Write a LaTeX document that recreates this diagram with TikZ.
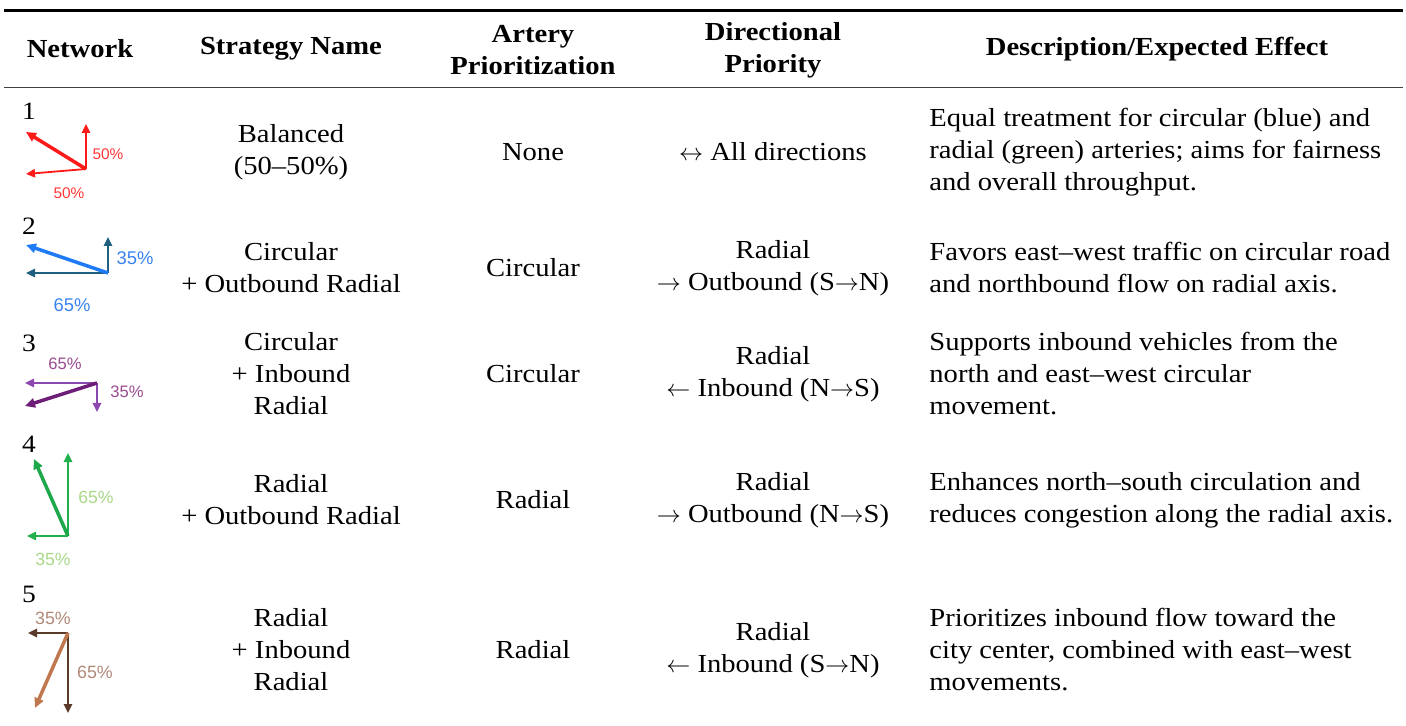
\documentclass[tikz,border=0pt]{standalone}
\usepackage{fontspec}
\setmainfont{Liberation Serif}[FakeStretch=1.1]
\newfontfamily\pctfont{Liberation Sans}
\usetikzlibrary{arrows.meta}

\definecolor{redA}{HTML}{FF1A1A}
\definecolor{redL}{HTML}{FF3535}
\definecolor{tealA}{HTML}{1F5F80}
\definecolor{blueA}{HTML}{1E7BF5}
\definecolor{blueL}{HTML}{3A82F0}
\definecolor{purA}{HTML}{8A48B0}
\definecolor{purB}{HTML}{6E1E78}
\definecolor{purL}{HTML}{9A4A90}
\definecolor{grnA}{HTML}{22B04C}
\definecolor{grnB}{HTML}{1DA84A}
\definecolor{grnL}{HTML}{A8D888}
\definecolor{brnA}{HTML}{5A3A28}
\definecolor{brnB}{HTML}{C07850}
\definecolor{brnL}{HTML}{B08878}

\begin{document}
\begin{tikzpicture}[x=0.5pt,y=-0.5pt,
  txt/.style={font=\fontsize{13}{16}\selectfont, align=center, inner sep=0pt},
  head/.style={font=\fontsize{13}{16}\selectfont\bfseries, align=center, inner sep=0pt},
  desc/.style={font=\fontsize{13}{16}\selectfont, align=left, anchor=west, inner sep=0pt},
  num/.style={font=\fontsize{12.5}{16}\selectfont, inner sep=0pt},
  pct/.style={font=\pctfont\fontsize{#1}{#1}\selectfont, inner sep=0pt},
  thinarr/.style={line width=0.9pt, -{Triangle[length=4.5pt,width=4.2pt]}},
  thickarr/.style={line width=1.75pt, -{Triangle[length=5pt,width=4.6pt]}}
]
\useasboundingbox (0,0) rectangle (1406,726);

% rules
\draw[line width=1.5pt] (4,11) -- (1403,11);
\draw[line width=0.9pt, black!75] (4,87.5) -- (1403,87.5);

% header
\node[head] (h1) at (80,49) {Network};
\node[head] (h2) at (291,49) {Strategy Name};
\node[head] (h3) at (533,50) {Artery\\Prioritization};
\node[head] (h4) at (773,50) {Directional\\Priority};
\node[head] (h5) at (1157,49) {Description/Expected Effect};

% network numbers
\node[num] (n1) at (29,111) {1};
\node[num] (n2) at (29,226) {2};
\node[num] (n3) at (29,343) {3};
\node[num] (n4) at (29,444) {4};
\node[num] (n5) at (29,594) {5};

% icon 1
\coordinate (o1) at (86,169);
\coordinate (u1) at (86,124);
\coordinate (d1) at (26,132);
\coordinate (l1) at (26,174);
\draw[thinarr, redA] (o1) -- (u1);
\draw[thinarr, redA] (o1) -- (l1);
\draw[thickarr, redA] (o1) -- (d1);
\node[pct=7.7, redL] (p1a) at (108,154) {50\%};
\node[pct=7.7, redL] (p1b) at (69,193) {50\%};

% icon 2
\coordinate (o2) at (108,273);
\coordinate (u2) at (108,237);
\coordinate (d2) at (26,245);
\coordinate (l2) at (26,273);
\draw[thinarr, tealA] (o2) -- (u2);
\draw[thinarr, tealA] (o2) -- (l2);
\draw[thickarr, blueA] (o2) -- (d2);
\node[pct=9.2, blueL] (p2a) at (135,258) {35\%};
\node[pct=9.2, blueL] (p2b) at (72,305) {65\%};

% icon 3
\coordinate (o3) at (97,383);
\coordinate (l3) at (25,383);
\coordinate (d3) at (25,406);
\coordinate (s3) at (97,412);
\draw[thinarr, purA] (o3) -- (l3);
\draw[thinarr, purA] (o3) -- (s3);
\draw[thickarr, purB] (o3) -- (d3);
\node[pct=8.3, purL] (p3a) at (65,364) {65\%};
\node[pct=8.3, purL] (p3b) at (127,392) {35\%};

% icon 4
\coordinate (o4) at (68,536);
\coordinate (u4) at (68,453);
\coordinate (d4) at (34,459);
\coordinate (l4) at (27,536);
\draw[thinarr, grnA] (o4) -- (u4);
\draw[thinarr, grnA] (o4) -- (l4);
\draw[thickarr, grnB] (o4) -- (d4);
\node[pct=8.8, grnL] (p4a) at (96,497) {65\%};
\node[pct=8.8, grnL] (p4b) at (53,559) {35\%};

% icon 5
\coordinate (o5) at (68,633);
\coordinate (l5) at (28,633);
\coordinate (s5) at (68,713);
\coordinate (d5) at (35,708);
\draw[thinarr, brnA] (o5) -- (l5);
\draw[thinarr, brnA] (o5) -- (s5);
\draw[thickarr, brnB] (o5) -- (d5);
\node[pct=8.9, brnL] (p5a) at (53,618) {35\%};
\node[pct=8.9, brnL] (p5b) at (95,672) {65\%};

% strategy names
\node[txt] (s1) at (291,152) {Balanced\\(50--50\%)};
\node[txt] (s2) at (291,268) {Circular\\+ Outbound Radial};
\node[txt] (s3) at (291,374) {Circular\\+ Inbound\\Radial};
\node[txt] (s4) at (291,500) {Radial\\+ Outbound Radial};
\node[txt] (s5) at (291,650) {Radial\\+ Inbound\\Radial};

% artery prioritization
\node[txt] (a1) at (533,152) {None};
\node[txt] (a2) at (533,268) {Circular};
\node[txt] (a3) at (533,374) {Circular};
\node[txt] (a4) at (533,500) {Radial};
\node[txt] (a5) at (533,650) {Radial};

% directional priority
\node[txt] (r1) at (773,152) {$\leftrightarrow$ All directions};
\node[txt] (r2) at (773,268) {Radial\\$\rightarrow$ Outbound (S$\rightarrow$N)};
\node[txt] (r3) at (773,374) {Radial\\$\leftarrow$ Inbound (N$\rightarrow$S)};
\node[txt] (r4) at (773,500) {Radial\\$\rightarrow$ Outbound (N$\rightarrow$S)};
\node[txt] (r5) at (773,650) {Radial\\$\leftarrow$ Inbound (S$\rightarrow$N)};

% descriptions
\node[desc] (e1) at (929,152) {Equal treatment for circular (blue) and\\radial (green) arteries; aims for fairness\\and overall throughput.};
\node[desc] (e2) at (929,268) {Favors east--west traffic on circular road\\and northbound flow on radial axis.};
\node[desc] (e3) at (929,374) {Supports inbound vehicles from the\\north and east--west circular\\movement.};
\node[desc] (e4) at (929,500) {Enhances north--south circulation and\\reduces congestion along the radial axis.};
\node[desc] (e5) at (929,650) {Prioritizes inbound flow toward the\\city center, combined with east--west\\movements.};
\end{tikzpicture}
\end{document}
